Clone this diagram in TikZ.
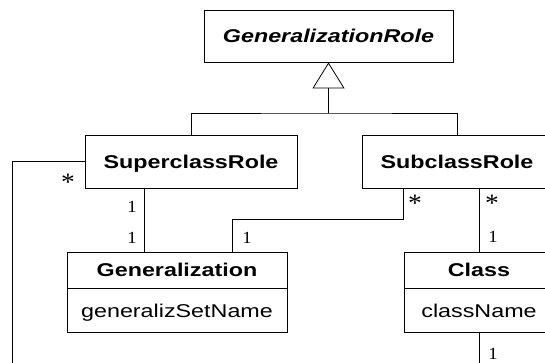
\documentclass[tikz,border=0pt]{standalone}
\usepackage{fontspec}
\setmainfont{Liberation Sans}[FakeStretch=1.26]
\newfontfamily\multfont{Liberation Serif}[FakeStretch=1.1]
\usetikzlibrary{arrows.meta}
\begin{document}
\begin{tikzpicture}[x=1pt, y=-1pt, line width=0.8pt,
  boxtext/.style={draw, rectangle, inner sep=0pt, text height=13.2pt, text depth=0pt},
  classbox/.style={boxtext, font=\fontsize{18.5}{21}\selectfont\bfseries},
  attrbox/.style={boxtext, font=\fontsize{18.5}{21}\selectfont},
  mult/.style={inner sep=0pt, font=\fontsize{17}{17}\selectfont\multfont},
  star/.style={inner sep=0pt, font=\fontsize{25}{25}\selectfont\multfont},
  inherit/.style={-{Triangle[open, length=26pt, width=32pt]}}]
\fill[white] (0,0) rectangle (545,362);
\clip (0,0) rectangle (545,362);

% classes
\node[classbox, font=\fontsize{18.5}{21}\selectfont\bfseries\itshape,
      minimum width=249pt, minimum height=52pt] (gr) at (328.5,36) {GeneralizationRole};
\node[classbox, minimum width=212pt, minimum height=53pt] (sup) at (191,161.5) {SuperclassRole};
\node[classbox, minimum width=190pt, minimum height=53pt] (sub) at (457,161.5) {SubclassRole};
\node[classbox, minimum width=220pt, minimum height=36pt] (gen) at (177,270) {Generalization};
\node[attrbox, minimum width=220pt, minimum height=44pt, anchor=north] (genattr) at (gen.south) {generalizSetName};
\node[classbox, minimum width=150pt, minimum height=36pt] (cls) at (479,270) {Class};
\node[attrbox, minimum width=150pt, minimum height=44pt, anchor=north] (clsattr) at (cls.south) {className};

% generalization tree
\coordinate (joint) at (328.5,113);
\draw[inherit] (joint) -- (gr.south);
\draw (sup.north) |- (joint) -| (sub.north);

% superclass role -- dangling association on the left
\coordinate (leftend) at (12,372);
\draw (sup.west) -| (leftend);
\node[star] (s1) at (68,182) {*};

% superclass role -- generalization
\draw ([xshift=-47pt]sup.south) -- ([xshift=-47pt]sup.south |- gen.north);
\node[mult] (m1) at (132,207) {1};
\node[mult] (m2) at (132,238) {1};

% subclass role -- generalization
\draw ([xshift=-54pt]sub.south) -- ++(0,30.5) -| ([xshift=55pt]gen.north);
\node[star] (s2) at (415,203) {*};
\node[mult] (m3) at (247,238) {1};

% subclass role -- class
\draw (cls.north |- sub.south) -- (cls.north);
\node[star] (s3) at (492,203) {*};
\node[mult] (m4) at (493,237) {1};

% class -- dangling association below
\coordinate (clsend) at (479,372);
\draw (clsattr.south) -- (clsend);
\node[mult] (m5) at (493,354) {1};
\end{tikzpicture}
\end{document}
